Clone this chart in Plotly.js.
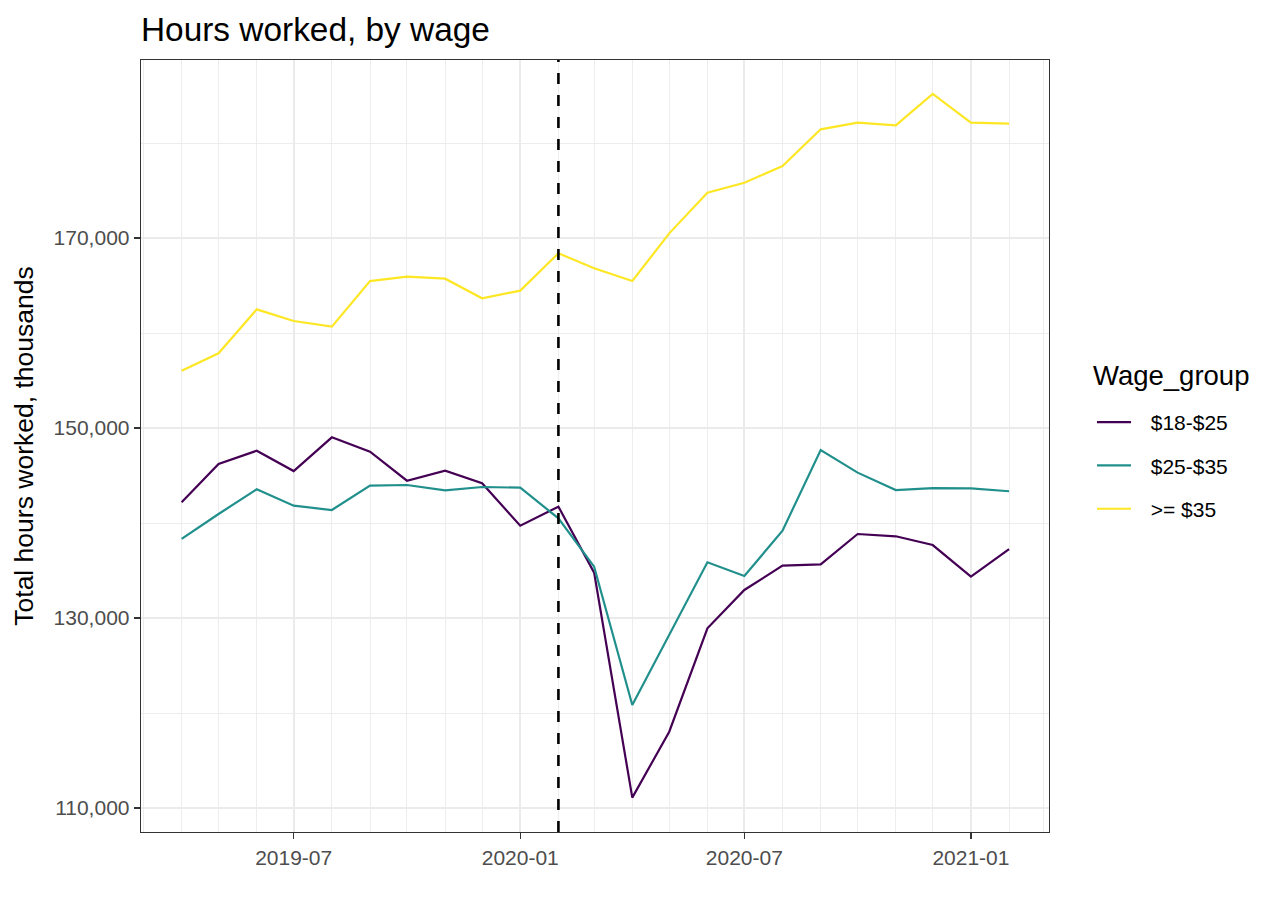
<!DOCTYPE html>
<html>
<head>
<meta charset="utf-8">
<script src="https://cdn.plot.ly/plotly-3.0.1.min.js"></script>
<style>
  html, body { margin: 0; padding: 0; background: #ffffff; }
  #chart { width: 1280px; height: 914px; }
</style>
</head>
<body>
<div id="chart"></div>
<script>
const months = ['2019-04-01','2019-05-01','2019-06-01','2019-07-01','2019-08-01','2019-09-01','2019-10-01','2019-11-01','2019-12-01',
  '2020-01-01','2020-02-01','2020-03-01','2020-04-01','2020-05-01','2020-06-01','2020-07-01','2020-08-01','2020-09-01','2020-10-01',
  '2020-11-01','2020-12-01','2021-01-01','2021-02-01'];

const wage18to25 = [142180,146210,147610,145470,149020,147510,144450,145510,144180,139720,141720,134770,111090,118030,128910,132950,135510,135650,138840,138600,137680,134350,137260];
const wage25to35 = [138320,140950,143550,141820,141370,143930,144000,143440,143790,143720,140490,135400,120840,128210,135860,134420,139190,147680,145300,143470,143680,143650,143340];
const wage35plus = [156030,157860,162490,161260,160670,165470,165930,165720,163650,164460,168390,166810,165470,170490,174770,175820,177580,181440,182140,181860,185160,182140,182030];

const seriesNames = ['$18-$25', '$25-$35', '>= $35'];
const seriesColors = ['#440154', '#21908C', '#FDE725'];
const seriesValues = [wage18to25, wage25to35, wage35plus];
const legendTitle = 'Wage_group';

const eventDate = '2020-02-01';

const FONT = 'Liberation Sans, Arial, Helvetica, sans-serif';
const LEGEND_PAD = '\u2002\u2009';

const traces = seriesValues.map((vals, i) => ({
  type: 'scatter',
  mode: 'lines',
  x: months,
  y: vals,
  name: LEGEND_PAD + seriesNames[i],
  legendgroup: 'g' + i,
  line: { color: seriesColors[i], width: 2.2 },
  hoverinfo: 'x+y+name'
}));

const layout = {
  width: 1280,
  height: 914,
  paper_bgcolor: '#ffffff',
  plot_bgcolor: '#ffffff',
  margin: { l: 141, r: 231, t: 60, b: 82 },
  font: { family: FONT, color: '#000000' },
  title: {
    text: 'Hours worked, by wage',
    x: 141 / 1280, xanchor: 'left', xref: 'container',
    y: 1 - 29 / 914, yanchor: 'middle', yref: 'container',
    font: { family: FONT, size: 33.4, color: '#000000' }
  },
  xaxis: {
    type: 'date',
    range: ['2019-02-27', '2021-03-05 10:00'],
    tick0: '2019-07-01',
    dtick: 'M6',
    tickformat: '%Y-%m',
    ticks: 'outside',
    ticklen: 6,
    tickwidth: 1.5,
    tickcolor: '#333333',
    tickfont: { family: FONT, size: 21, color: '#4D4D4D' },
    showgrid: true,
    gridcolor: '#EBEBEB',
    gridwidth: 1.7,
    minor: { dtick: 'M1', tick0: '2019-01-01', showgrid: true, gridcolor: '#EBEBEB', gridwidth: 0.9, ticks: '' },
    showline: true,
    linecolor: '#333333',
    linewidth: 1.3,
    mirror: true,
    zeroline: false
  },
  yaxis: {
    range: [107474, 188737],
    tick0: 110000,
    dtick: 20000,
    tickformat: ',d',
    ticks: 'outside',
    ticklen: 6,
    tickwidth: 1.5,
    tickcolor: '#333333',
    tickfont: { family: FONT, size: 21, color: '#4D4D4D' },
    showgrid: true,
    gridcolor: '#EBEBEB',
    gridwidth: 1.7,
    minor: { dtick: 10000, tick0: 110000, showgrid: true, gridcolor: '#EBEBEB', gridwidth: 0.9, ticks: '' },
    showline: true,
    linecolor: '#333333',
    linewidth: 1.3,
    mirror: true,
    zeroline: false,
    title: { text: 'Total hours worked, thousands', font: { family: FONT, size: 26.5, color: '#000000' }, standoff: 12 }
  },
  shapes: [{
    type: 'line',
    xref: 'x', yref: 'paper',
    x0: eventDate, x1: eventDate, y0: 0, y1: 1,
    line: { color: '#000000', width: 2.6, dash: '11px,11px' }
  }],
  annotations: [{
    text: legendTitle,
    xref: 'paper', yref: 'paper',
    x: (1091 - 141) / 908, xanchor: 'left',
    y: (832 - 375) / 772, yanchor: 'middle',
    showarrow: false,
    font: { family: FONT, size: 27.5, color: '#000000' }
  }],
  showlegend: true,
  legend: {
    xref: 'container', yref: 'container',
    x: 1092 / 1280, xanchor: 'left',
    y: 1 - 402 / 914, yanchor: 'top',
    bgcolor: 'rgba(0,0,0,0)',
    borderwidth: 0,
    tracegroupgap: 13,
    itemwidth: 34,
    font: { family: FONT, size: 21, color: '#000000' }
  }
};

Plotly.newPlot('chart', traces, layout, { displayModeBar: false, staticPlot: true });
</script>
</body>
</html>
